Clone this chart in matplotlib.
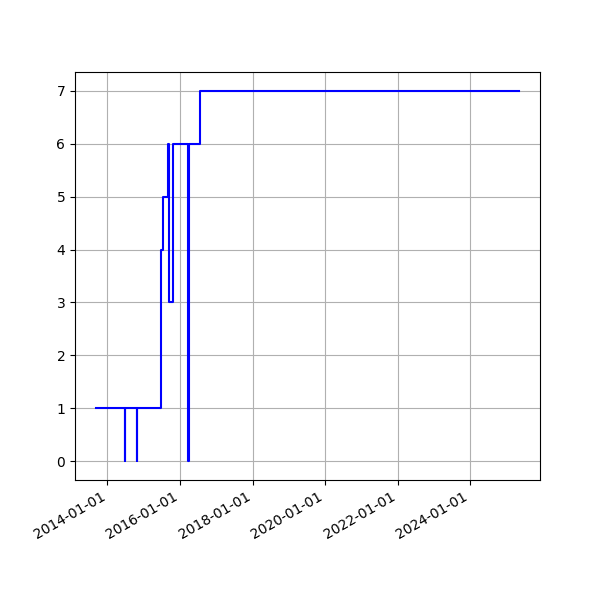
import matplotlib
matplotlib.use("Agg")
import matplotlib.pyplot as plt
import matplotlib.dates as mdates
import numpy as np

dates = np.array([
    "2013-09-09", "2014-06-25", "2014-06-28", "2014-10-21", "2014-10-24",
    "2015-06-29", "2015-07-12", "2015-09-04", "2015-09-17", "2015-10-20",
    "2016-03-20", "2016-03-25", "2016-03-28", "2016-07-23", "2025-05-05",
], dtype="datetime64[D]")
values = [1, 0, 1, 0, 1, 4, 5, 6, 3, 6, 5, 0, 6, 7, 7]

fig, ax = plt.subplots(figsize=(6, 6), dpi=100)
ax.plot(dates, values, color="blue", drawstyle="steps-post")
ax.grid(True)
ax.xaxis.set_major_locator(mdates.YearLocator(2))
ax.xaxis.set_major_formatter(mdates.DateFormatter("%Y-%m-%d"))
fig.autofmt_xdate()
fig.savefig("out.png", dpi=100)
